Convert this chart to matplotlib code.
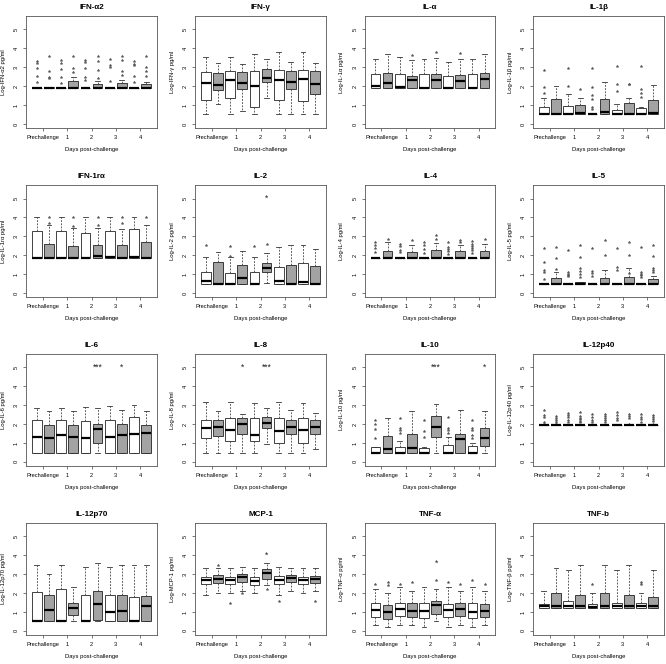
import matplotlib
matplotlib.use("Agg")
import matplotlib.pyplot as plt

plt.rcParams['font.family'] = ['Liberation Sans', 'DejaVu Sans']

# ---------------- data ----------------
x_labels = ["Prechallenge", "1", "2", "3", "4"]
titles = ["IFN-α2", "IFN-γ", "IL-α", "IL-1β",
          "IFN-1rα", "IL-2", "IL-4", "IL-5",
          "IL-6", "IL-8", "IL-10", "IL-12p40",
          "IL-12p70", "MCP-1", "TNF-α", "TNF-b"]
ylabels = ["Log-IFN-α2 pg/ml", "Log-IFN-γ pg/ml", "Log-IL-1α pg/ml", "Log-IL-1β pg/ml",
           "Log-IL-1rα pg/ml", "Log-IL-2 pg/ml", "Log-IL-4 pg/ml", "Log-IL-5 pg/ml",
           "Log-IL-6 pg/ml", "Log-IL-8 pg/ml", "Log-IL-10 pg/ml", "Log-IL-12p40 pg/ml",
           "Log-IL-12p70 pg/ml", "Log-MCP-1 pg/ml", "Log-TNF-α pg/ml", "Log-TNF-β pg/ml"]

# Each panel: 10 boxes (white/grey pairs) : whisker low, Q1, median, Q3, whisker high, outliers
ifna2_lo = [1.9] * 10
ifna2_q1 = [1.9] * 10
ifna2_med = [1.9] * 10
ifna2_q3 = [1.9, 1.93, 1.9, 2.25, 1.9, 2.1, 1.9, 2.15, 1.9, 2.1]
ifna2_hi = [1.9, 1.95, 1.9, 2.46, 1.9, 2.25, 1.9, 2.3, 1.9, 2.2]
ifna2_out = [[3.33, 3.2, 2.97, 2.52, 2.24], [3.6, 2.82, 2.5, 2.41], [3.36, 3.2, 2.9, 2.5, 2.15],
             [3.57, 2.97, 2.76], [3.36, 3.26, 2.97, 2.5, 2.32], [3.6, 3.33, 2.87, 2.43],
             [3.43, 3.1, 3.03, 2.27], [3.6, 3.38, 2.82, 2.59], [3.33, 3.19, 3.12, 2.54, 2.24],
             [3.6, 3.03, 2.82, 2.55]]

ifng_lo = [0.53, 1.04, 0.53, 0.69, 0.53, 1.36, 0.53, 0.53, 0.53, 0.53]
ifng_q1 = [1.27, 1.78, 1.36, 1.83, 0.88, 2.2, 1.27, 1.83, 1.23, 1.57]
ifng_med = [2.15, 2.06, 2.32, 2.17, 2.02, 2.45, 2.32, 2.24, 2.39, 2.1]
ifng_q3 = [2.75, 2.71, 2.78, 2.73, 2.82, 2.89, 2.85, 2.8, 2.85, 2.78]
ifng_hi = [3.52, 3.2, 3.54, 3.15, 3.7, 3.42, 3.8, 3.29, 3.8, 3.24]
ifng_out = [[]] * 10

il1a_lo = [1.88] * 10
il1a_q1 = [1.88] * 10
il1a_med = [1.99, 2.19, 1.94, 2.3, 1.92, 2.33, 1.88, 2.26, 1.92, 2.37]
il1a_q3 = [2.65, 2.69, 2.65, 2.54, 2.65, 2.65, 2.53, 2.58, 2.65, 2.69]
il1a_hi = [3.43, 3.72, 3.52, 3.36, 3.43, 3.47, 3.29, 3.43, 3.43, 3.72]
il1a_out = [[], [], [], [3.67], [], [3.8], [], [3.74], [], []]

il1b_lo = [0.51] * 10
il1b_q1 = [0.51] * 10
il1b_med = [0.51, 0.51, 0.51, 0.57, 0.51, 0.66, 0.51, 0.51, 0.51, 0.57]
il1b_q3 = [0.89, 1.31, 0.94, 1.01, 0.51, 1.31, 0.73, 1.13, 0.83, 1.28]
il1b_hi = [1.35, 2.0, 1.58, 1.4, 0.51, 2.22, 1.05, 1.38, 0.89, 2.06]
il1b_out = [[2.87, 1.95, 1.63], [], [2.94, 1.99], [1.83], [2.94, 1.95, 1.54, 1.31, 0.89, 0.82],
            [], [3.05, 2.13, 1.72], [2.13, 2.09], [3.05, 1.84, 1.63, 1.45], []]

il1ra_lo = [1.86] * 10
il1ra_q1 = [1.86] * 10
il1ra_med = [1.86, 1.86, 1.86, 1.86, 1.86, 1.99, 1.9, 1.86, 1.93, 1.86]
il1ra_q3 = [3.28, 2.6, 3.28, 2.52, 3.17, 2.55, 3.28, 2.57, 3.39, 2.7]
il1ra_hi = [4.0, 3.62, 4.0, 3.44, 4.0, 3.44, 4.0, 3.39, 4.0, 3.6]
il1ra_out = [[], [3.69, 4.0], [], [3.56, 4.0], [], [3.6, 4.0], [], [3.69, 4.0], [], [4.0]]

il2_lo = [0.5, 0.5, 0.5, 0.5, 0.5, 0.53, 0.5, 0.5, 0.5, 0.5]
il2_q1 = [0.5, 0.5, 0.5, 0.5, 0.5, 1.13, 0.5, 0.5, 0.5, 0.5]
il2_med = [0.64, 0.5, 0.5, 0.8, 0.5, 1.35, 0.64, 0.5, 0.6, 0.5]
il2_q3 = [1.13, 1.63, 1.05, 1.49, 1.13, 1.61, 1.38, 1.49, 1.58, 1.44]
il2_hi = [1.91, 2.16, 1.9, 2.23, 1.91, 2.15, 2.43, 2.57, 2.55, 2.32]
il2_out = [[2.57], [], [1.99, 2.52], [], [2.48], [2.62], [], [], [], []]

il4_lo = [1.86] * 10
il4_q1 = [1.86] * 10
il4_med = [1.86] * 10
il4_q3 = [1.86, 2.25, 1.86, 2.2, 1.86, 2.29, 1.86, 2.23, 1.86, 2.23]
il4_hi = [1.86, 2.7, 1.86, 2.55, 1.86, 2.64, 1.86, 2.55, 1.86, 2.6]
il4_out = [[2.7, 2.55, 2.38, 2.16], [2.87], [2.59, 2.5, 2.29, 2.16], [2.82],
           [2.7, 2.55, 2.32, 2.11], [3.05, 2.87], [2.7, 2.43, 2.32, 2.22, 2.06], [2.82, 2.73],
           [2.77, 2.62, 2.48, 2.38, 2.27, 2.15], [2.87]]

il5_lo = [0.51] * 10
il5_q1 = [0.51] * 10
il5_med = [0.51] * 10
il5_q3 = [0.51, 0.78, 0.51, 0.6, 0.51, 0.82, 0.51, 0.85, 0.51, 0.73]
il5_hi = [0.51, 1.13, 0.51, 0.6, 0.51, 1.24, 0.51, 1.31, 0.51, 0.89]
il5_out = [[2.41, 1.65, 1.24, 1.13, 0.74], [2.45, 1.84, 1.28], [2.27, 1.1, 1.03, 0.96, 0.89],
           [2.54, 1.91, 1.35, 1.17, 1.03, 0.85], [2.38, 1.17, 1.08, 0.89], [2.8, 2.02],
           [2.38, 1.4, 1.21], [2.73, 2.02, 1.06], [2.45, 1.1, 1.03, 0.94, 0.85],
           [2.55, 1.99, 1.35, 1.22, 1.1]]

il6_lo = [0.49] * 10
il6_q1 = [0.49, 0.49, 0.49, 0.49, 0.49, 1.02, 0.49, 0.49, 0.49, 0.49]
il6_med = [1.33, 1.27, 1.41, 1.34, 1.27, 1.73, 1.34, 1.4, 1.48, 1.52]
il6_q3 = [2.23, 1.96, 2.23, 1.96, 2.17, 1.98, 2.23, 1.98, 2.37, 1.93]
il6_hi = [2.86, 2.69, 2.86, 2.69, 2.92, 2.83, 2.97, 2.76, 3.0, 2.69]
il6_out = [[]] * 10

il8_lo = [0.49, 0.49, 0.49, 0.49, 0.49, 0.95, 0.49, 0.49, 0.49, 0.67]
il8_q1 = [1.25, 1.38, 1.1, 1.5, 1.1, 1.8, 1.02, 1.47, 0.99, 1.47]
il8_med = [1.77, 1.87, 1.68, 2.0, 1.43, 2.08, 1.61, 1.84, 1.68, 1.84]
il8_q3 = [2.21, 2.21, 2.3, 2.3, 2.33, 2.39, 2.33, 2.23, 2.3, 2.23]
il8_hi = [3.14, 2.69, 3.14, 2.54, 3.09, 2.83, 3.14, 2.74, 3.11, 2.58]
il8_out = [[]] * 10

il10_lo = [0.49] * 10
il10_q1 = [0.49, 0.49, 0.49, 0.49, 0.49, 1.31, 0.49, 0.49, 0.49, 0.85]
il10_med = [0.49, 0.67, 0.49, 0.71, 0.49, 1.82, 0.49, 1.2, 0.49, 1.27]
il10_q3 = [0.8, 1.38, 0.81, 1.48, 0.72, 2.4, 0.88, 1.48, 0.85, 1.77]
il10_hi = [0.8, 2.3, 1.11, 2.69, 0.8, 3.04, 1.34, 2.74, 1.02, 2.69]
il10_out = [[2.23, 2.0, 1.73, 1.25], [], [2.3, 1.77, 1.7, 1.54], [], [2.23, 1.61, 1.34], [],
            [2.35, 1.77, 1.66, 1.55], [], [2.21, 1.8, 1.66, 1.41, 1.29], []]

il12p40_lo = [1.93] * 10
il12p40_q1 = [1.93] * 10
il12p40_med = [1.93] * 10
il12p40_q3 = [1.93, 1.95, 1.93, 1.97, 1.93, 1.93, 1.93, 1.97, 1.93, 1.93]
il12p40_hi = [1.93, 1.95, 1.93, 1.97, 1.93, 1.93, 1.93, 1.97, 1.93, 1.93]
il12p40_out = [[2.72, 2.47, 2.35, 2.12, 1.98], [2.4, 2.33, 2.23, 2.12, 2.01],
               [2.61, 2.47, 2.35, 2.23, 2.09], [2.65, 2.44, 2.33, 2.26, 2.17, 2.09],
               [2.51, 2.37, 2.23, 2.09], [2.51, 2.4, 2.3, 2.19, 2.09],
               [2.65, 2.47, 2.33, 2.23], [2.54, 2.4, 2.3, 1.98],
               [2.51, 2.37, 2.26, 2.12], [2.47, 2.35, 2.26, 2.17, 2.0]]

il12p70_lo = [0.5] * 10
il12p70_q1 = [0.5, 0.5, 0.5, 0.85, 0.5, 0.6, 0.55, 0.5, 0.5, 0.55]
il12p70_med = [0.5, 1.1, 0.55, 1.2, 0.55, 1.4, 1.0, 1.05, 0.5, 1.3]
il12p70_q3 = [2.05, 1.9, 2.2, 1.5, 1.9, 2.1, 1.9, 1.9, 1.8, 1.85]
il12p70_hi = [3.5, 3.0, 3.5, 2.3, 3.4, 3.6, 3.4, 3.5, 3.5, 3.5]
il12p70_out = [[]] * 10

mcp1_lo = [1.9, 2.0, 2.0, 2.1, 2.0, 2.4, 1.9, 2.1, 2.0, 2.1]
mcp1_q1 = [2.5, 2.55, 2.5, 2.6, 2.45, 2.75, 2.5, 2.6, 2.5, 2.55]
mcp1_med = [2.7, 2.75, 2.7, 2.85, 2.65, 3.05, 2.7, 2.8, 2.7, 2.75]
mcp1_q3 = [2.85, 2.95, 2.85, 3.0, 2.85, 3.25, 2.9, 2.95, 2.85, 2.9]
mcp1_hi = [3.3, 3.3, 3.3, 3.4, 3.3, 3.6, 3.4, 3.3, 3.3, 3.3]
mcp1_out = [[], [3.5], [1.5], [2.0], [], [2.2], [1.6], [], [], [1.6]]

tnfa_lo = [0.3, 0.2, 0.3, 0.3, 0.2, 0.5, 0.2, 0.3, 0.2, 0.3]
tnfa_q1 = [0.75, 0.65, 0.8, 0.75, 0.7, 0.9, 0.75, 0.8, 0.7, 0.75]
tnfa_med = [1.1, 1.0, 1.15, 1.05, 1.05, 1.35, 1.1, 1.15, 1.0, 1.05]
tnfa_q3 = [1.5, 1.35, 1.5, 1.45, 1.5, 1.6, 1.4, 1.45, 1.5, 1.4]
tnfa_hi = [2.2, 2.0, 2.3, 2.1, 2.3, 2.2, 2.3, 2.1, 2.3, 2.1]
tnfa_out = [[2.5], [2.4, 2.6], [2.5], [2.6], [], [2.7], [2.6], [2.5], [2.7], [2.5]]

tnfb_lo = [1.2] * 10
tnfb_q1 = [1.2] * 10
tnfb_med = [1.3, 1.3, 1.3, 1.3, 1.25, 1.3, 1.3, 1.3, 1.3, 1.3]
tnfb_q3 = [1.4, 2.0, 1.6, 1.9, 1.4, 2.0, 1.5, 1.9, 1.5, 1.8]
tnfb_hi = [2.1, 3.3, 3.2, 3.5, 2.0, 3.5, 3.2, 3.5, 2.0, 3.2]
tnfb_out = [[], [], [], [], [2.5], [], [], [], [2.5, 2.6], []]

# significance marks: (panel index, box position, y, text)
sig_marks = [(5, 6, 5.0, "*"),
             (8, 6, 5.0, "***"), (8, 8, 5.0, "*"),
             (9, 4, 5.0, "*"), (9, 6, 5.0, "***"),
             (10, 6, 5.0, "***"), (10, 10, 5.0, "*"),
             (13, 6, 4.0, "*"), (14, 6, 3.6, "*")]

panels = [
    (ifna2_lo, ifna2_q1, ifna2_med, ifna2_q3, ifna2_hi, ifna2_out),
    (ifng_lo, ifng_q1, ifng_med, ifng_q3, ifng_hi, ifng_out),
    (il1a_lo, il1a_q1, il1a_med, il1a_q3, il1a_hi, il1a_out),
    (il1b_lo, il1b_q1, il1b_med, il1b_q3, il1b_hi, il1b_out),
    (il1ra_lo, il1ra_q1, il1ra_med, il1ra_q3, il1ra_hi, il1ra_out),
    (il2_lo, il2_q1, il2_med, il2_q3, il2_hi, il2_out),
    (il4_lo, il4_q1, il4_med, il4_q3, il4_hi, il4_out),
    (il5_lo, il5_q1, il5_med, il5_q3, il5_hi, il5_out),
    (il6_lo, il6_q1, il6_med, il6_q3, il6_hi, il6_out),
    (il8_lo, il8_q1, il8_med, il8_q3, il8_hi, il8_out),
    (il10_lo, il10_q1, il10_med, il10_q3, il10_hi, il10_out),
    (il12p40_lo, il12p40_q1, il12p40_med, il12p40_q3, il12p40_hi, il12p40_out),
    (il12p70_lo, il12p70_q1, il12p70_med, il12p70_q3, il12p70_hi, il12p70_out),
    (mcp1_lo, mcp1_q1, mcp1_med, mcp1_q3, mcp1_hi, mcp1_out),
    (tnfa_lo, tnfa_q1, tnfa_med, tnfa_q3, tnfa_hi, tnfa_out),
    (tnfb_lo, tnfb_q1, tnfb_med, tnfb_q3, tnfb_hi, tnfb_out),
]

# ---------------- layout ----------------
W, H = 666, 664
fig = plt.figure(figsize=(W / 100, H / 100), dpi=100)
col_left = [26, 195, 364.5, 533]
row_top = [15.7, 184.9, 353.6, 522.6]
ax_w, ax_h = 131, 112.5

positions = list(range(1, 11))
white, grey = "#FFFFFF", "#A3A3A3"
edge = "#222222"

for i, (lo, q1, med, q3, hi, out) in enumerate(panels):
    r, c = divmod(i, 4)
    left = col_left[c] / W
    bottom = 1 - (row_top[r] + ax_h) / H
    ax = fig.add_axes([left, bottom, ax_w / W, ax_h / H])
    stats = []
    for k in range(10):
        stats.append(dict(med=med[k], q1=q1[k], q3=q3[k], whislo=lo[k], whishi=hi[k],
                          fliers=out[k]))
    bp = ax.bxp(stats, positions=positions, widths=0.8, patch_artist=True,
                capwidths=0.4, showfliers=True,
                boxprops=dict(edgecolor=edge, linewidth=0.6),
                medianprops=dict(color="black", linewidth=1.6, solid_capstyle="butt"),
                whiskerprops=dict(color="#444444", linewidth=0.6, linestyle=(0, (2.2, 1.6))),
                capprops=dict(color="#333333", linewidth=0.6),
                flierprops=dict(marker="*", markersize=2.0, markerfacecolor="#555555",
                                markeredgecolor="#555555", markeredgewidth=0.3, linestyle="none"))
    for k, box in enumerate(bp["boxes"]):
        box.set_facecolor(white if k % 2 == 0 else grey)
    ax.set_xlim(0.1, 10.9)
    ax.set_ylim(-0.22, 5.72)
    ax.set_xticks([1.5, 3.5, 5.5, 7.5, 9.5])
    ax.set_xticklabels(x_labels, fontsize=4.1)
    ax.set_yticks([0, 1, 2, 3, 4, 5])
    ax.set_yticklabels(["0", "1", "2", "3", "4", "5"], fontsize=4.1, rotation=90, va="center")
    ax.tick_params(axis="both", length=2.5, width=0.5, color="#444444", pad=2.5)
    for sp in ax.spines.values():
        sp.set_linewidth(0.6)
        sp.set_color("#555555")
    ax.set_title(titles[i], fontsize=5.8, fontweight="bold", pad=5)
    ax.set_xlabel("Days post-challenge", fontsize=4.2, labelpad=5)
    ax.set_ylabel(ylabels[i], fontsize=4.2, labelpad=6)

    for (pi, pos, yv, txt) in sig_marks:
        if pi == i:
            ax.text(pos, yv, txt, ha="center", va="center", fontsize=6.2,
                    color="#222222")

fig.savefig("out.png", dpi=100)
